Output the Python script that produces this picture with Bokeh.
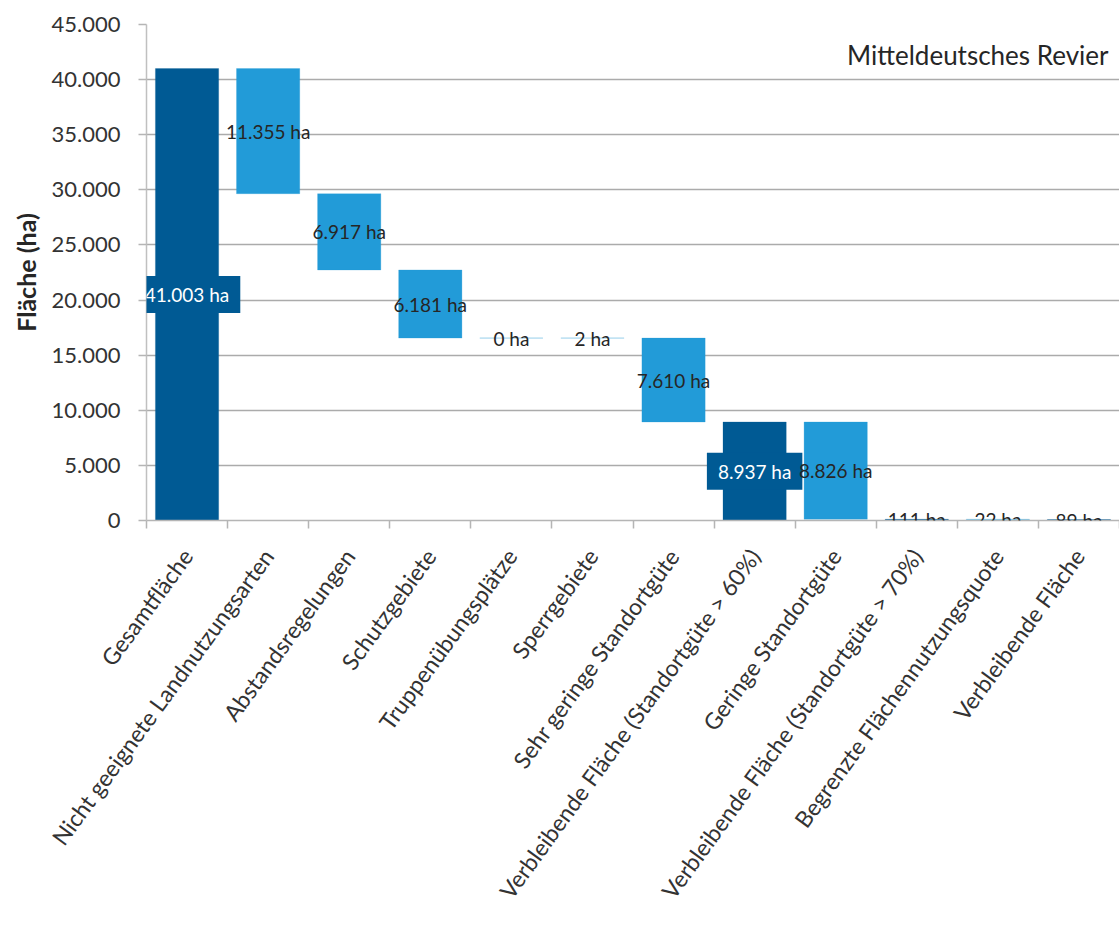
import math
from bokeh.plotting import figure
from bokeh.models import FixedTicker, ColumnDataSource, Label
from bokeh.embed import file_html
from bokeh.resources import INLINE

categories = [
    "Gesamtfläche",
    "Nicht geeignete Landnutzungsarten",
    "Abstandsregelungen",
    "Schutzgebiete",
    "Truppenübungsplätze",
    "Sperrgebiete",
    "Sehr geringe Standortgüte",
    "Verbleibende Fläche (Standortgüte > 60%)",
    "Geringe Standortgüte",
    "Verbleibende Fläche (Standortgüte > 70%)",
    "Begrenzte Flächennutzungsquote",
    "Verbleibende Fläche",
]
values = [41003, 11355, 6917, 6181, 0, 2, 7610, 8937, 8826, 111, 22, 89]
kinds = ["total", "minus", "minus", "minus", "minus", "minus", "minus",
         "total", "minus", "total", "minus", "total"]
y_ticks = [0, 5000, 10000, 15000, 20000, 25000, 30000, 35000, 40000, 45000]
title_text = "Mitteldeutsches Revier"
y_label = "Fläche (ha)"

DARK = "#005A94"
LIGHT = "#229BD8"
FONT = "Lato"
TXT = "#333333"

def fmt(v):
    return f"{v:,}".replace(",", ".")

xs, bottoms, tops, colors = [], [], [], []
running = 0
for i, (v, k) in enumerate(zip(values, kinds)):
    xs.append(i)
    if k == "total":
        bottoms.append(0)
        tops.append(v)
        running = v
        colors.append(DARK)
    else:
        tops.append(running)
        bottoms.append(running - v)
        running = running - v
        colors.append(LIGHT)

mids = [(b + t) / 2 for b, t in zip(bottoms, tops)]
labels = [fmt(v) + " ha" for v in values]

src = ColumnDataSource(dict(x=xs, bottom=bottoms, top=tops, color=colors))

p = figure(width=1119, height=926, output_backend="svg", toolbar_location=None,
           x_range=(-0.5, len(categories) - 0.5), y_range=(0, 45000),
           min_border_left=146, min_border_right=0, min_border_top=24,
           min_border_bottom=406)
p.outline_line_color = None
p.background_fill_color = "white"
p.border_fill_color = "white"

p.vbar(x="x", bottom="bottom", top="top", width=0.78, source=src,
       fill_color="color", line_color="color", line_alpha=0.25, line_width=1)

# data labels
for i in range(len(values)):
    boxed = kinds[i] == "total" and values[i] > 1000
    if boxed:
        lab = Label(x=xs[i], y=mids[i], text=labels[i], text_align="center",
                    text_baseline="middle", text_font=FONT, text_font_size="19px",
                    text_color="white", background_fill_color=DARK,
                    padding=dict(left=11, right=11, top=7, bottom=7), level="overlay")
    else:
        lab = Label(x=xs[i], y=mids[i], text=labels[i], text_align="center",
                    text_baseline="middle", text_font=FONT, text_font_size="19px",
                    text_color="#262626", level="overlay")
    p.add_layout(lab)

# axes
xa = p.xaxis[0]
xa.ticker = FixedTicker(ticks=list(range(len(categories))),
                        minor_ticks=[i - 0.5 for i in range(len(categories) + 1)])
xa.major_label_overrides = {i: c for i, c in enumerate(categories)}
xa.major_label_orientation = math.radians(54)
xa.major_tick_out = 0
xa.major_tick_in = 0
xa.minor_tick_out = 8
xa.minor_tick_in = 0
xa.minor_tick_line_color = "#B5B5B5"
xa.minor_tick_line_width = 1.5
xa.axis_line_color = "#B5B5B5"
xa.axis_line_width = 1.5
xa.major_label_text_font = FONT
xa.major_label_text_font_size = "23px"
xa.major_label_text_color = TXT
xa.major_label_standoff = 23

ya = p.yaxis[0]
ya.ticker = FixedTicker(ticks=y_ticks)
ya.major_label_overrides = {t: fmt(t) for t in y_ticks}
ya.major_tick_out = 8
ya.major_tick_in = 0
ya.minor_tick_out = 0
ya.minor_tick_in = 0
ya.major_tick_line_color = "#B5B5B5"
ya.major_tick_line_width = 1.5
ya.axis_line_color = "#C0C0C0"
ya.axis_line_width = 1.5
ya.major_label_text_font = FONT
ya.major_label_text_font_size = "22px"
ya.major_label_text_color = TXT
ya.major_label_standoff = 18
ya.axis_label = y_label
ya.axis_label_text_font = FONT
ya.axis_label_text_font_style = "bold"
ya.axis_label_text_font_size = "25px"
ya.axis_label_text_color = "#262626"
ya.axis_label_standoff = 8

p.xgrid.grid_line_color = None
p.ygrid.ticker = FixedTicker(ticks=y_ticks)
p.ygrid.grid_line_color = "#ABABAB"
p.ygrid.grid_line_width = 1.3

p.add_layout(Label(x=len(categories) - 0.5, y=45000, x_offset=-11, y_offset=-30,
                   text=title_text, text_align="right", text_baseline="middle",
                   text_font=FONT, text_font_size="26px", text_color="#262626"))

open("out.html", "w").write(file_html(p, INLINE))
